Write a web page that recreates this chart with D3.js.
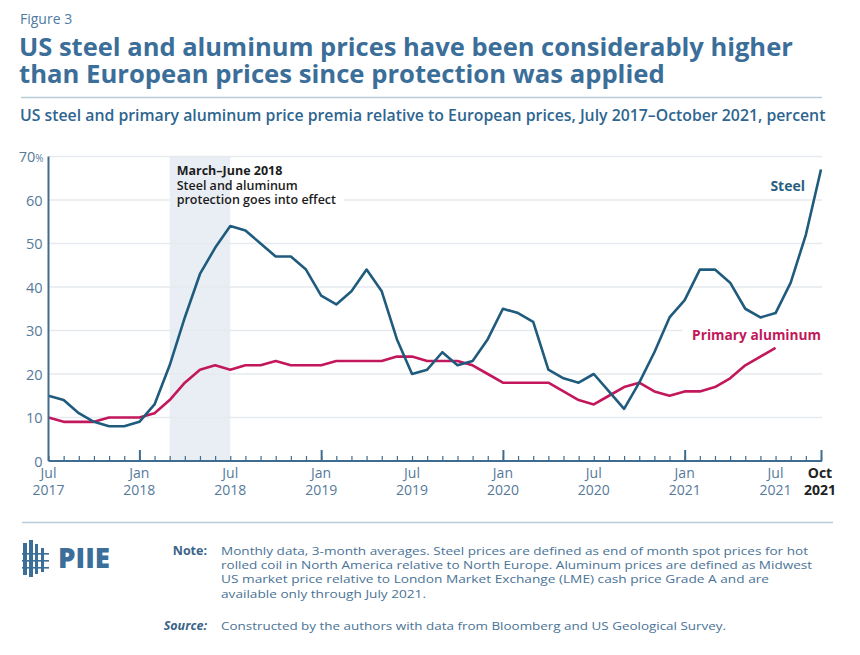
<!DOCTYPE html>
<html>
<head>
<meta charset="utf-8">
<script src="https://cdn.jsdelivr.net/npm/d3@7"></script>
<style>
  html, body { margin: 0; padding: 0; background: #fff; }
  svg { display: block; }
  text { font-family: "Open Sans", "Noto Sans", sans-serif; }
</style>
</head>
<body>
<svg id="chart" width="860" height="655"></svg>
<script>
// ---------------- DATA ----------------
const months = d3.utcMonth.range(new Date(Date.UTC(2017, 6, 1)), new Date(Date.UTC(2021, 10, 1)))
  .map(d3.utcFormat("%Y-%m")); // Jul 2017 .. Oct 2021

const steel = [15, 14, 11, 9, 8, 8,
  9, 13, 22, 33, 43, 49, 54, 53, 50, 47, 47, 44,
  38, 36, 39, 44, 39, 28, 20, 21, 25, 22, 23, 28,
  35, 34, 32, 21, 19, 18, 20, 16, 12, 18, 25, 33,
  37, 44, 44, 41, 35, 33, 34, 41, 52, 67];

const aluminum = [10, 9, 9, 9, 10, 10,
  10, 11, 14, 18, 21, 22, 21, 22, 22, 23, 22, 22,
  22, 23, 23, 23, 23, 24, 24, 23, 23, 23, 22, 20,
  18, 18, 18, 18, 16, 14, 13, 15, 17, 18, 16, 15,
  16, 16, 17, 19, 22, 24, 26];

const yTicks = [0, 10, 20, 30, 40, 50, 60, 70];
const xMajorMonths = ["2018-01", "2019-01", "2020-01", "2021-01", "2021-10"];
const xLabelMonths = ["2017-07", "2018-01", "2018-07", "2019-01", "2019-07", "2020-01", "2020-07", "2021-01", "2021-07", "2021-10"];
const xLabelLine1 = ["Jul", "Jan", "Jul", "Jan", "Jul", "Jan", "Jul", "Jan", "Jul", "Oct"];
const xLabelLine2 = ["2017", "2018", "2018", "2019", "2019", "2020", "2020", "2021", "2021", "2021"];
const bandMonths = ["2018-03", "2018-07"];

const figureLabel = "Figure 3";
const titleLines = ["US steel and aluminum prices have been considerably higher",
                    "than European prices since protection was applied"];
const subtitle = "US steel and primary aluminum price premia relative to European prices, July 2017\u2013October 2021, percent";
const annotLines = ["March\u2013June 2018", "Steel and aluminum", "protection goes into effect"];
const noteLines = ["Monthly data, 3-month averages. Steel prices are defined as end of month spot prices for hot",
  "rolled coil in North America relative to North Europe. Aluminum prices are defined as Midwest",
  "US market price relative to London Market Exchange (LME) cash price Grade A and are",
  "available only through July 2021."];
const sourceText = "Constructed by the authors with data from Bloomberg and US Geological Survey.";

// ---------------- STYLE ----------------
const C = {
  steel: "#1f5b7d", alum: "#c2185b", title: "#3b6e99", sub: "#2e6590",
  axis: "#3f6c8f", tick: "#557a9a", grid: "#e6eaee", band: "#e9eef4", note: "#4a7396"
};

const svg = d3.select("#chart");

function fit(sel, w) {
  const n = sel.node();
  const fs = parseFloat(sel.attr("font-size"));
  const l = n.getComputedTextLength();
  sel.attr("font-size", fs * w / l);
}

// Header
svg.append("text").attr("x", 20).attr("y", 24).attr("font-size", 14).attr("fill", "#4d7ba3")
  .text(figureLabel);
titleLines.forEach((t, i) => {
  const s = svg.append("text").attr("x", 19).attr("y", 56 + i * 27).attr("font-size", 25)
    .attr("font-weight", 700).attr("fill", C.title).text(t);
  fit(s, i === 0 ? 774 : 646);
});
svg.append("line").attr("x1", 21).attr("x2", 822).attr("y1", 97.5).attr("y2", 97.5)
  .attr("stroke", "#b9cad8").attr("stroke-width", 1.5);
const st = svg.append("text").attr("x", 20).attr("y", 121).attr("font-size", 15)
  .attr("font-weight", 600).attr("fill", C.sub).text(subtitle);
fit(st, 806);

// Scales
const x = d3.scalePoint().domain(months).range([48.5, 821]);
const y = d3.scaleLinear().domain([0, 70]).range([461, 156.5]);

// Band
svg.append("rect").attr("x", x(bandMonths[0])).attr("width", x(bandMonths[1]) - x(bandMonths[0]))
  .attr("y", y(70)).attr("height", y(0) - y(70)).attr("fill", C.band);

// Annotation (measure first for gridline gap)
const annot = svg.append("g");
annotLines.forEach((t, i) => {
  annot.append("text").attr("x", x(bandMonths[0]) + 7).attr("y", 175 + i * 14.5)
    .attr("font-size", 12.5).attr("font-weight", i === 0 ? 700 : 600).attr("fill", "#1c1c1c").text(t);
});
const ab = annot.node().getBBox();

// Series labels (measure)
const steelLab = svg.append("text").attr("x", 805).attr("y", 191).attr("text-anchor", "end")
  .attr("font-size", 14).attr("font-weight", 700).attr("fill", "#2a5f82").text("Steel");
const alumLab = svg.append("text").attr("x", 821).attr("y", 340).attr("text-anchor", "end")
  .attr("font-size", 14).attr("font-weight", 700).attr("fill", C.alum).text("Primary aluminum");
fit(alumLab, 129);
const alb = alumLab.node().getBBox();

// Gridlines
const grid = svg.insert("g", "g");
yTicks.filter(v => v > 0).forEach(v => {
  let segs = [[48.5, 822]];
  if (v === 60) segs = [[48.5, x(bandMonths[0])], [ab.x + ab.width + 8, 822]];
  if (v === 30) segs = [[48.5, alb.x - 10]];
  segs.forEach(s => grid.append("line").attr("x1", s[0]).attr("x2", s[1])
    .attr("y1", y(v)).attr("y2", y(v)).attr("stroke", C.grid).attr("stroke-width", 1.5));
});
grid.raise();
annot.raise();

// Lines
const line = d3.line().x((d, i) => x(months[i])).y(d => y(d)).curve(d3.curveLinear);
svg.append("path").datum(aluminum).attr("d", line).attr("fill", "none")
  .attr("stroke", C.alum).attr("stroke-width", 2.6).attr("stroke-linejoin", "round");
svg.append("path").datum(steel).attr("d", line).attr("fill", "none")
  .attr("stroke", C.steel).attr("stroke-width", 2.6).attr("stroke-linejoin", "round");
steelLab.raise(); alumLab.raise();

// X axis: minor ticks
const xAxisMinor = d3.axisBottom(x).tickValues(months).tickSize(-5).tickSizeOuter(0).tickFormat("");
const gx = svg.append("g").attr("transform", `translate(0,${y(0)})`).call(xAxisMinor);
gx.select(".domain").attr("stroke", C.axis).attr("stroke-width", 2).attr("d", `M48.5,0H822`);
gx.selectAll(".tick line").attr("stroke", C.axis).attr("stroke-width", 1.2);
const xAxisMajor = d3.axisBottom(x).tickValues(xMajorMonths).tickSize(-11).tickSizeOuter(0).tickFormat("");
const gx2 = svg.append("g").attr("transform", `translate(0,${y(0)})`).call(xAxisMajor);
gx2.select(".domain").remove();
gx2.selectAll(".tick line").attr("stroke", C.axis).attr("stroke-width", 2);

xLabelMonths.forEach((m, i) => {
  const last = m === "2021-10";
  const t = svg.append("text").attr("x", x(m) + (last ? -1 : 0)).attr("text-anchor", "middle")
    .attr("font-size", 14).attr("fill", last ? "#222" : C.tick).attr("font-weight", last ? 700 : 400);
  t.append("tspan").attr("x", x(m) + (last ? -1 : 0)).attr("y", 478).text(xLabelLine1[i]);
  t.append("tspan").attr("x", x(m) + (last ? -1 : 0)).attr("y", 495).text(xLabelLine2[i]);
});

// Y axis
const yAxis = d3.axisLeft(y).tickValues(yTicks).tickSize(0).tickPadding(0).tickFormat(d => d);
const gy = svg.append("g").attr("transform", "translate(48.5,0)").call(yAxis);
gy.select(".domain").attr("stroke", C.axis).attr("stroke-width", 2).attr("d", `M0,${y(70)}V${y(0)}`);
gy.selectAll(".tick text").attr("x", -6).attr("dy", "0.35em").attr("font-size", 14.5)
  .attr("fill", C.tick).attr("font-family", "'Open Sans', sans-serif");
gy.selectAll(".tick text").filter(d => d === 70).each(function () {
  const t = d3.select(this);
  t.text("70");
  t.append("tspan").attr("font-size", 10).text("%");
  t.attr("x", -5);
});

// Footer
svg.append("line").attr("x1", 22).attr("x2", 833).attr("y1", 522.5).attr("y2", 522.5)
  .attr("stroke", "#b9cad8").attr("stroke-width", 1.5);

// Logo icon (building glyph)
const logo = svg.append("g").attr("fill", C.title);
[[23, 543, 4, 32], [29, 540, 4, 37], [35, 544, 3, 30], [41, 548, 3, 24]].forEach(r =>
  logo.append("rect").attr("x", r[0]).attr("y", r[1]).attr("width", r[2]).attr("height", r[3]));
[[22, 553, 27], [22, 560, 27], [22, 567, 27]].forEach(r =>
  logo.append("rect").attr("x", r[0]).attr("y", r[1]).attr("width", r[2]).attr("height", 1.6));
const piie = svg.append("text").attr("x", 58).attr("y", 567.5).attr("font-size", 26)
  .attr("font-weight", 800).attr("fill", C.title).text("PIIE");
fit(piie, 52);

const footFont = "'Liberation Sans Narrow', 'Liberation Sans', Arial, sans-serif";
svg.append("text").attr("x", 207).attr("y", 555).attr("text-anchor", "end").attr("font-size", 12.5)
  .attr("font-weight", 700).attr("fill", "#3a6488").text("Note:");
const noteW = [587, 591, 548, 205];
noteLines.forEach((t, i) => {
  svg.append("text").attr("x", 221).attr("y", 555 + i * 14.2).attr("font-size", 11.6)
    .attr("font-family", footFont)
    .attr("textLength", noteW[i]).attr("lengthAdjust", "spacingAndGlyphs")
    .attr("fill", C.note).text(t);
});
svg.append("text").attr("x", 207).attr("y", 630).attr("text-anchor", "end").attr("font-size", 12.5)
  .attr("font-weight", 700).attr("font-style", "italic").attr("fill", "#3a6488").text("Source:");
svg.append("text").attr("x", 221).attr("y", 630).attr("font-size", 11.6)
  .attr("font-family", footFont)
  .attr("textLength", 505).attr("lengthAdjust", "spacingAndGlyphs")
  .attr("fill", C.note).text(sourceText);
</script>
</body>
</html>
